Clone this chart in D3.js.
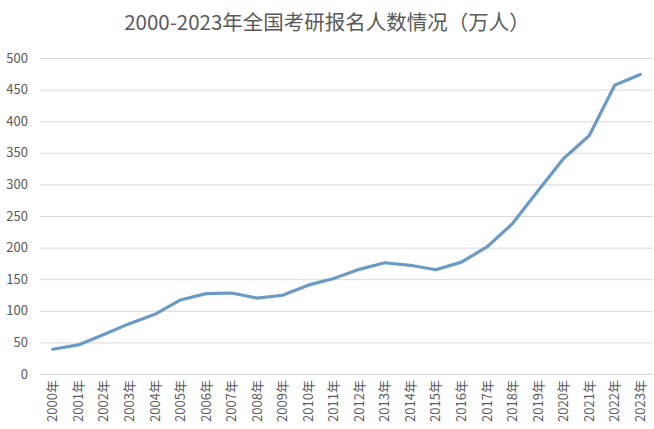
<!DOCTYPE html>
<html><head><meta charset="utf-8">
<script src="https://cdn.jsdelivr.net/npm/d3@7"></script>
<style>body{margin:0;background:#fff}svg{display:block}</style>
</head><body>
<svg id="c" width="654" height="429"></svg>
<script>
const years = ["2000年","2001年","2002年","2003年","2004年","2005年","2006年","2007年","2008年","2009年","2010年","2011年","2012年","2013年","2014年","2015年","2016年","2017年","2018年","2019年","2020年","2021年","2022年","2023年"];
const applicants = [39.2,46,62.4,79.7,94.5,117.2,127.1,128.2,120,124.6,140.6,151.1,165.6,176,172,164.9,177,201,238,290,341,377,457,474];
const yTicks = [0,50,100,150,200,250,300,350,400,450,500];
const title = "2000-2023年全国考研报名人数情况（万人）";

const svg = d3.select("#c");
const font = "'Noto Sans CJK SC', 'Noto Sans', sans-serif";
const L = 40, R = 653, T = 58, B = 374;
const x = d3.scaleBand().domain(years).range([L, R]);
const y = d3.scaleLinear().domain([0, 500]).range([B, T]);

svg.append("text").attr("x", 327).attr("y", 30).attr("text-anchor", "middle")
  .attr("font-family", font).attr("font-size", 20.5).attr("fill", "#595959").text(title);

const ya = svg.append("g").attr("transform", `translate(${L},0)`)
  .call(d3.axisLeft(y).tickValues(yTicks).tickSize(-(R - L)).tickPadding(12));
ya.select(".domain").remove();
ya.selectAll(".tick line").attr("stroke", "#d9d9d9").attr("stroke-width", 1);
ya.selectAll(".tick text").attr("font-family", font).attr("font-size", 13).attr("fill", "#595959");

const xa = svg.append("g").attr("transform", `translate(0,${B})`)
  .call(d3.axisBottom(x).tickSize(0).tickPadding(6));
xa.select(".domain").remove();
xa.selectAll(".tick text").attr("font-family", font).attr("font-size", 13).attr("fill", "#595959")
  .attr("transform", "rotate(-90)").attr("text-anchor", "end").attr("dy", "0.35em").attr("x", -6).attr("y", 0);

const line = d3.line().x((d, i) => x(years[i]) + x.bandwidth() / 2).y(d => y(d));
svg.append("path").datum(applicants).attr("d", line).attr("fill", "none")
  .attr("stroke", "#6b9ac4").attr("stroke-width", 3.2).attr("stroke-linejoin", "round").attr("stroke-linecap", "round");
</script>
</body></html>
